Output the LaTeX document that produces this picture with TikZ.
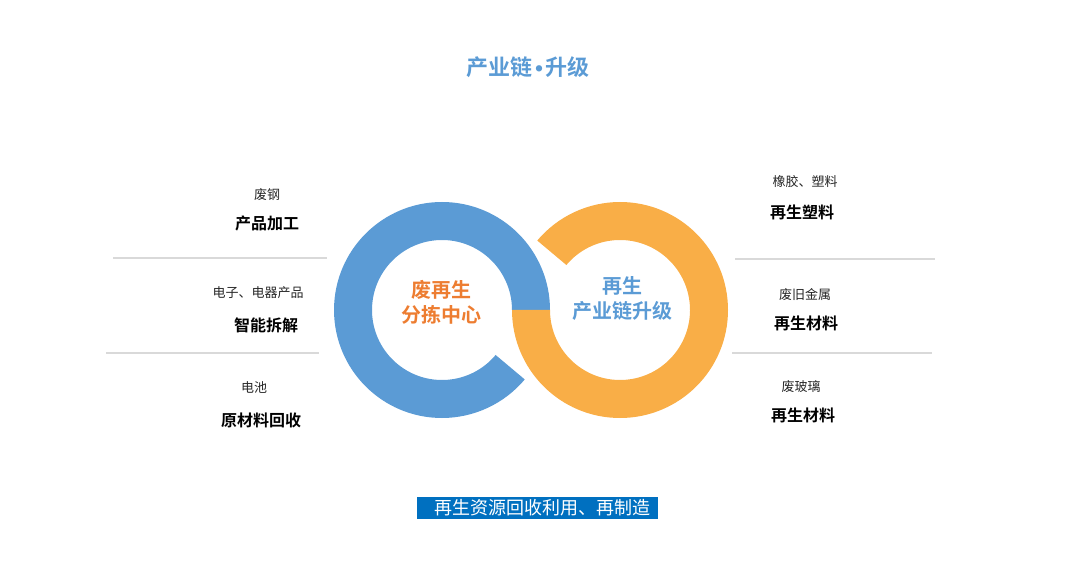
\documentclass[tikz,border=0pt]{standalone}
\usepackage{fontspec}
\setmainfont{Noto Sans CJK SC}[BoldFont={Noto Sans CJK SC Bold}]
\newfontfamily\dotfont{DejaVu Sans}
\usepackage{tikz}
\usetikzlibrary{calc}
\definecolor{cRingBlue}{HTML}{5B9BD5}
\definecolor{cRingGold}{HTML}{F9AE47}
\definecolor{cOrangeTxt}{HTML}{ED7D31}
\definecolor{cBanner}{HTML}{0070C0}
\definecolor{cSep}{HTML}{D9D9D9}
\definecolor{cSub}{HTML}{262626}

\begin{document}
\begin{tikzpicture}[
  x=1pt, y=1pt,
  sublbl/.style={font=\fontsize{13}{15}\selectfont, text=cSub, inner sep=0pt},
  mainlbl/.style={font=\fontsize{16}{18}\selectfont\bfseries, text=black, inner sep=0pt},
  ringtxt/.style={font=\fontsize{20}{25}\selectfont\bfseries, align=center, inner sep=0pt},
  sepline/.style={draw=cSep, line width=1.3pt},
  banner/.style={fill=cBanner, text=white, font=\fontsize{18}{20}\selectfont,
                 minimum width=241pt, minimum height=22pt, inner sep=0pt},
]
\useasboundingbox (0,0) rectangle (1066,-577);

% ---- title
\node[font=\fontsize{22}{24}\selectfont\bfseries, text=cRingBlue] (title) at (528,-67)
  {产业链{\dotfont\fontsize{18}{20}\selectfont\kern1pt•\kern1pt}升级};

% ---- the two rings
\coordinate (cb) at (442,-310);
\coordinate (cg) at (620,-310);
\fill[cRingBlue] ($(cb)+(0:108)$) arc[start angle=0, end angle=320, radius=108]
  -- ($(cb)+(320:70)$) arc[start angle=320, end angle=0, radius=70] -- cycle;
\fill[cRingGold] ($(cg)+(180:108)$) arc[start angle=180, end angle=500, radius=108]
  -- ($(cg)+(500:70)$) arc[start angle=500, end angle=180, radius=70] -- cycle;
\node[ringtxt, text=cOrangeTxt] (sort) at (441,-302) {废再生\\分拣中心};
\node[ringtxt, text=cRingBlue] (chain) at (622,-299) {再生\\产业链升级};

% ---- left column
\node[sublbl] (lsub1) at (267,-195) {废钢};
\node[mainlbl] (lmain1) at (267,-223) {产品加工};
\node[sublbl] (lsub2) at (258,-293) {电子、电器产品};
\node[mainlbl] (lmain2) at (266,-325) {智能拆解};
\node[sublbl] (lsub3) at (254,-388) {电池};
\node[mainlbl] (lmain3) at (261,-420) {原材料回收};
\draw[sepline] (113,-258) -- (327,-258);
\draw[sepline] (106,-353) -- (319,-353);

% ---- right column
\node[sublbl] (rsub1) at (805,-182) {橡胶、塑料};
\node[mainlbl] (rmain1) at (802,-212) {再生塑料};
\node[sublbl] (rsub2) at (805,-295) {废旧金属};
\node[mainlbl] (rmain2) at (806,-323) {再生材料};
\node[sublbl] (rsub3) at (801,-387) {废玻璃};
\node[mainlbl] (rmain3) at (803,-415) {再生材料};
\draw[sepline] (735,-259) -- (935,-259);
\draw[sepline] (732,-353) -- (932,-353);

% ---- bottom banner
\node[banner] (reuse) at (537.5,-508) {\hspace{10pt}再生资源回收利用、再制造};
\end{tikzpicture}
\end{document}
